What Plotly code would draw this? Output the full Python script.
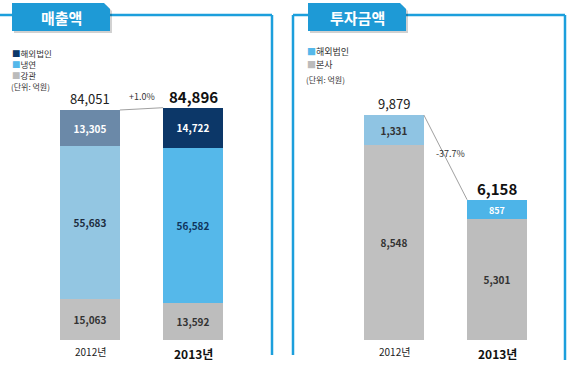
import plotly.graph_objects as go

W, H = 567, 366
FONT = "Noto Sans CJK KR"

# ---- data ----
years = ["2012년", "2013년"]
sales_overseas = [13305, 14722]
sales_cold = [55683, 56582]
sales_pipe = [15063, 13592]
sales_total = [84051, 84896]
sales_change = "+1.0%"
sales_legend = ["해외법인", "냉연", "강관"]

invest_overseas = [1331, 857]
invest_hq = [8548, 5301]
invest_total = [9879, 6158]
invest_change = "-37.7%"
invest_legend = ["해외법인", "본사"]

unit_label = "(단위: 억원)"

# ---- styling ----
BLUE = "#1c9fdc"
BAR_W = 0.58


def px(x, y):
    return x / W, 1 - y / H


def path(points):
    s = ""
    for i, (x, y) in enumerate(points):
        u, v = px(x, y)
        s += ("M" if i == 0 else "L") + f"{u:.5f},{v:.5f} "
    return s + "Z"


fig = go.Figure()

def bar(y, colors, tcolors, xa, ya):
    return go.Bar(
        x=years, y=y, xaxis=xa, yaxis=ya, width=BAR_W,
        marker=dict(color=colors, line=dict(width=0)),
        texttemplate="<b>%{y:,}</b>", textposition="inside", insidetextanchor="middle",
        textangle=0, textfont=dict(family=FONT, size=10, color=tcolors),
        hoverinfo="skip", showlegend=False,
    )

# left panel: 매출액
fig.add_trace(bar(sales_pipe, ["#c0c0c0", "#bdbdbd"], ["#333333", "#333333"], "x", "y"))
fig.add_trace(bar(sales_cold, ["#93c6e2", "#55b8ea"], ["#1d2c3e", "#0f345c"], "x", "y"))
fig.add_trace(bar(sales_overseas, ["#6b89a8", "#0c3768"], ["#ffffff", "#ffffff"], "x", "y"))
# right panel: 투자금액
fig.add_trace(bar(invest_hq, ["#c0c0c0", "#bdbdbd"], ["#333333", "#333333"], "x2", "y2"))
fig.add_trace(bar(invest_overseas, ["#8fc4e3", "#4db4e8"], ["#333333", "#ffffff"], "x2", "y2"))

# axes: bars centred at x=90/193 (left) and 394/497 (right), base at y=340
y_dom = [(H - 340) / H, 1]
ax_common = dict(showgrid=False, zeroline=False, showticklabels=False, showline=False,
                 fixedrange=True)
fig.update_layout(
    xaxis=dict(domain=[38.5 / W, 244.5 / W], range=[-0.5, 1.5], type="category", **ax_common),
    yaxis=dict(domain=y_dom, range=[0, sales_total[0] * 340 / 230], **ax_common),
    xaxis2=dict(domain=[342.5 / W, 548.5 / W], range=[-0.5, 1.5], type="category",
                anchor="y2", **ax_common),
    yaxis2=dict(domain=y_dom, range=[0, invest_total[0] * 340 / 225], anchor="x2", **ax_common),
)

shapes = []
line = dict(color=BLUE, width=2.5)
# frames
for (x0, y0, x1, y1) in [(0, 15, 272, 15), (272, 15, 272, 355),
                         (293, 15, 293, 355), (293, 15, 565, 15), (565, 15, 565, 360)]:
    a, b = px(x0, y0)
    c, d = px(x1, y1)
    shapes.append(dict(type="line", xref="paper", yref="paper", x0=a, y0=b, x1=c, y1=d, line=line))
# tabs with shadow
for (x0, x1) in [(12, 110), (308, 406)]:
    shapes.append(dict(type="path", xref="paper", yref="paper",
                       path=path([(x0 + 2, 33), (x0 + 2, 5), (x1 - 4, 5), (x1 + 2, 11), (x1 + 2, 33)]),
                       fillcolor="rgba(0,0,0,0.18)", line=dict(width=0)))
    shapes.append(dict(type="path", xref="paper", yref="paper",
                       path=path([(x0, 31), (x0, 3), (x1 - 6, 3), (x1, 9), (x1, 31)]),
                       fillcolor="#1e9ad6", line=dict(width=0)))
# connector lines between bar tops
for xa, ya, tot in [("x", "y", sales_total), ("x2", "y2", invest_total)]:
    shapes.append(dict(type="line", xref=xa, yref=ya, x0=0 + BAR_W / 2, y0=tot[0],
                       x1=1 - BAR_W / 2, y1=tot[1], line=dict(color="#a0a0a0", width=1)))

ann = []
def t(x, y, text, size, color="#333333", bold=False, xanchor="center", xref="paper", yref="paper",
      yanchor="middle", yshift=0, align="center"):
    if bold:
        text = f"<b>{text}</b>"
    if xref == "paper":
        x = x / W
    if yref == "paper":
        y = 1 - y / H
    ann.append(dict(x=x, y=y, xref=xref, yref=yref, text=text, showarrow=False,
                    xanchor=xanchor, yanchor=yanchor, yshift=yshift, borderpad=0, align=align,
                    font=dict(family=FONT, size=size, color=color)))

# tab titles
t(61, 17, "매출액", 15, "#ffffff", bold=True)
t(357, 17, "투자금액", 15, "#ffffff", bold=True)

# legends
def sq(c):
    return f"<span style='color:{c}'>■</span>"
left_cols = ["#0c3768", "#55b8ea", "#bbbbbb"]
t(11, 46, "<br>".join(sq(c) + n for c, n in zip(left_cols, sales_legend)), 8.5, "#333333",
  xanchor="left", yanchor="top", align="left")
t(10, 86, unit_label, 8, "#333333", xanchor="left")
right_cols = ["#55b8ea", "#bbbbbb"]
for i, (c, n) in enumerate(zip(right_cols, invest_legend)):
    t(306, 51 + 14 * i, sq(c) + n, 9, "#333333", xanchor="left")
t(305, 79, unit_label, 8, "#333333", xanchor="left")

# totals above bars
for xa, ya, tot in [("x", "y", sales_total), ("x2", "y2", invest_total)]:
    t(years[0], tot[0], f"{tot[0]:,}", 13, "#222222", xref=xa, yref=ya, yanchor="bottom", yshift=1)
    t(years[1], tot[1], f"{tot[1]:,}", 15, "#111111", bold=True, xref=xa, yref=ya,
      yanchor="bottom", yshift=0)

# change labels
t(0.5, max(sales_total), sales_change, 9, "#333333", xref="x", yref="y", yanchor="bottom", yshift=4)
t(0.55, sum(invest_total) / 2, invest_change, 9, "#333333", xref="x2", yref="y2", yshift=4)

# category labels
for xa in ["x", "x2"]:
    t(years[0], 351, years[0], 10, "#222222", xref=xa)
    t(years[1], 353, years[1], 12, "#111111", bold=True, xref=xa)

fig.update_layout(
    width=W, height=H, margin=dict(l=0, r=0, t=0, b=0),
    paper_bgcolor="#ffffff", plot_bgcolor="rgba(0,0,0,0)",
    barmode="stack", showlegend=False, shapes=shapes, annotations=ann,
    font=dict(family=FONT),
)

fig.write_html("out.html", config={"displayModeBar": False},
               post_script="document.body.style.margin='0';document.body.style.overflow='hidden';")
